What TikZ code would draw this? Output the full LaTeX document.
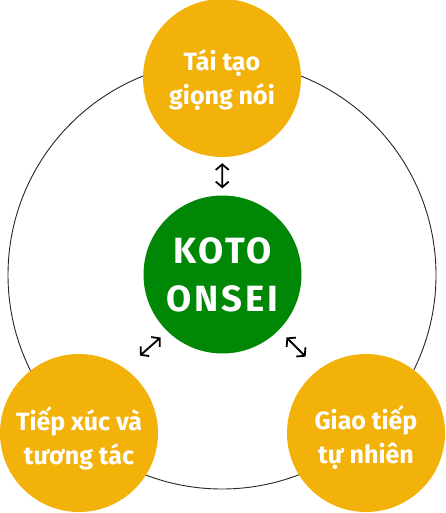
\documentclass[tikz,border=0pt]{standalone}
\usepackage{fontspec}
\setmainfont{Fira Sans}
\newfontfamily\kotofont{Fira Sans}[LetterSpace=8]
\usetikzlibrary{arrows.meta,calc}
\definecolor{amber}{RGB}{243,178,10}
\definecolor{kgreen}{RGB}{0,135,5}
\begin{document}
\begin{tikzpicture}[x=1pt,y=-1pt,
  bubble/.style={circle, fill=amber, minimum size=158pt, inner sep=0pt},
  bubtext/.style={text=white, inner sep=0pt,
    font=\fontsize{25}{34}\selectfont\bfseries, align=center},
  hub/.style={circle, fill=kgreen, minimum size=158pt, inner sep=0pt, text=white,
    font=\kotofont\fontsize{36.5}{48}\selectfont\bfseries, align=center},
  arr/.style={{Straight Barb[length=5.5pt,width=13pt]}-{Straight Barb[length=5.5pt,width=13pt]}, line width=1.8pt},
  ring/.style={circle, draw=black!85, line width=0.9pt, minimum size=428pt, inner sep=0pt}]
\useasboundingbox (0,0) rectangle (445,513);
\node[ring] (ring) at (222,275) {};
\node[bubble] (top) at (222,78) {};
\node[bubtext, yshift=-2pt] (toptext) at (top) {Tái tạo\\giọng nói};
\node[hub] (hub) at (222.5,274.5) {KOTO\\ONSEI};
\node[bubble] (bl) at (79,433) {};
\node[bubtext, yshift=-5pt] (bltext) at (bl) {Tiếp xúc và\\tương tác};
\node[bubble] (br) at (366,433) {};
\node[bubtext, yshift=-4.5pt] (brtext) at (br) {Giao tiếp\\tự nhiên};
\draw[arr, shorten <=6pt, shorten >=7pt] (top) -- (hub);
\draw[arr] ($(hub.225)+(-6,7)$) -- ($(bl.45)+(5,-21.4)$);
\draw[arr] ($(hub.-45)+(8,7)$) -- ($(br.135)+(-4.4,-20.4)$);
\end{tikzpicture}
\end{document}
